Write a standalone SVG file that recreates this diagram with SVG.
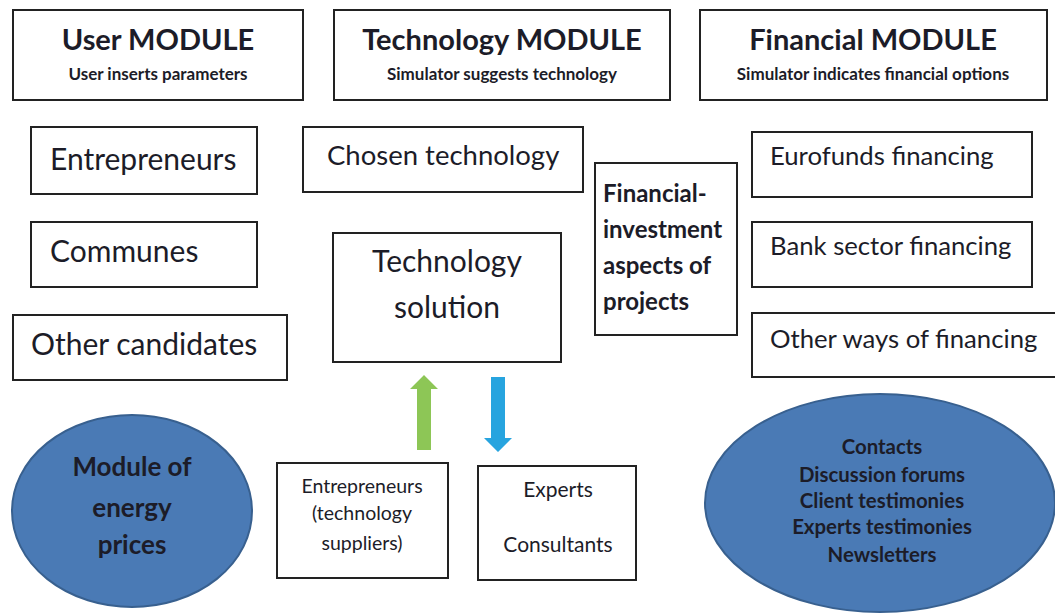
<svg xmlns="http://www.w3.org/2000/svg" width="1055" height="614" viewBox="0 0 1055 614">
<style>
.box{fill:#fff;stroke:#222;stroke-width:2}
.ell{fill:#4a7ab5;stroke:#38608f;stroke-width:2}
text{font-family:Lato,"Liberation Sans",sans-serif;fill:#1c1c28}
.h{font-size:29px;font-weight:bold;text-anchor:middle}
.s{font-size:17px;font-weight:bold;text-anchor:middle}
.m{font-size:30px}
.mc{font-size:30px;text-anchor:middle}
.ct{font-size:27.5px}
.b{font-size:24px;font-weight:bold}
.f{font-size:25.7px}
.e{font-size:26px;font-weight:bold;text-anchor:middle}
.c{font-size:20.4px;font-weight:bold;text-anchor:middle}
.sm{font-size:19.5px;text-anchor:middle}
.sx{font-size:21px;text-anchor:middle}
</style>
<rect width="1055" height="614" fill="#fff"/>
<g id="user-module"><rect class="box" x="13" y="10" width="290" height="90"/><text class="h" x="158" y="50">User MODULE</text><text class="s" x="158" y="80">User inserts parameters</text></g>
<g id="technology-module"><rect class="box" x="334" y="10" width="336" height="90"/><text class="h" x="502" y="50">Technology MODULE</text><text class="s" x="502" y="80">Simulator suggests technology</text></g>
<g id="financial-module"><rect class="box" x="700" y="10" width="347" height="90"/><text class="h" x="873" y="50">Financial MODULE</text><text class="s" x="873" y="80">Simulator indicates financial options</text></g>
<g id="entrepreneurs"><rect class="box" x="31" y="127" width="226" height="67"/><text class="m" x="50" y="170">Entrepreneurs</text></g>
<g id="communes"><rect class="box" x="31" y="222" width="226" height="65"/><text class="m" x="50" y="262">Communes</text></g>
<g id="other-candidates"><rect class="box" x="13" y="315" width="274" height="65"/><text class="m" x="31" y="355">Other candidates</text></g>
<g id="chosen-technology"><rect class="box" x="303" y="127" width="280" height="65"/><text class="ct" x="327" y="165">Chosen technology</text></g>
<g id="technology-solution"><rect class="box" x="333" y="233" width="228" height="129"/><text class="mc" x="447" y="272">Technology</text><text class="mc" x="447" y="318">solution</text></g>
<g id="financial-investment"><rect class="box" x="595" y="163" width="142" height="172"/><text class="b" x="603" y="202">Financial-</text><text class="b" x="603" y="238">investment</text><text class="b" x="603" y="274">aspects of</text><text class="b" x="603" y="310">projects</text></g>
<g id="eurofunds"><rect class="box" x="752" y="132" width="280" height="65"/><text class="f" x="770" y="165">Eurofunds financing</text></g>
<g id="bank-sector"><rect class="box" x="752" y="222" width="280" height="65"/><text class="f" x="770" y="255">Bank sector financing</text></g>
<g id="other-ways"><rect class="box" x="752" y="313" width="310" height="64"/><text class="f" x="770" y="348">Other ways of financing</text></g>
<g id="energy-prices"><ellipse class="ell" cx="132" cy="511" rx="120" ry="96"/><text class="e" x="132" y="476">Module of</text><text class="e" x="132" y="517">energy</text><text class="e" x="132" y="554">prices</text></g>
<g id="contacts"><ellipse class="ell" cx="880" cy="503" rx="175" ry="109"/><text class="c" x="882" y="454">Contacts</text><text class="c" x="882" y="482">Discussion forums</text><text class="c" x="882" y="508">Client testimonies</text><text class="c" x="882" y="534">Experts testimonies</text><text class="c" x="882" y="562">Newsletters</text></g>
<g id="suppliers"><rect class="box" x="277" y="463" width="171" height="115"/><text class="sm" x="362" y="493">Entrepreneurs</text><text class="sm" x="362" y="520">(technology</text><text class="sm" x="362" y="550">suppliers)</text></g>
<g id="experts"><rect class="box" x="478" y="466" width="158" height="114"/><text class="sx" x="558" y="497">Experts</text><text class="sx" x="558" y="552">Consultants</text></g>
<g id="connectors">
<polygon points="417,450 431,450 431,389 438,389 424,375 410,389 417,389" fill="#8dc656"/>
<polygon points="491,377 505,377 505,438 512,438 498,452 484,438 491,438" fill="#27a4df"/>
</g>
</svg>
